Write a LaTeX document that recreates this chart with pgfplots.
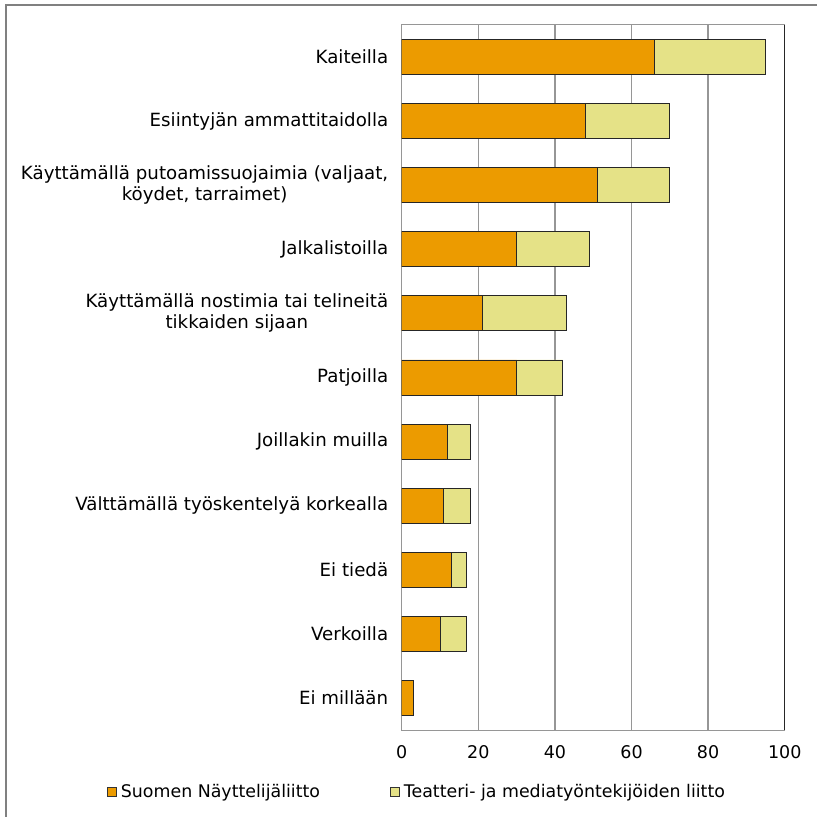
\documentclass[border=0pt]{standalone}
\usepackage{fontspec}
\setmainfont{DejaVu Sans}
\usepackage{pgfplots}
\pgfplotsset{compat=1.18}
\definecolor{cOrange}{RGB}{236,155,0}
\definecolor{cYellow}{RGB}{229,226,135}
\definecolor{cGrid}{RGB}{150,150,150}
\begin{document}
\begin{tikzpicture}[x=1bp,y=1bp]
\useasboundingbox (0,0) rectangle (817,817);
\fill[white] (0,0) rectangle (817,817);
\draw[line width=1.5bp, color={rgb,255:red,128;green,128;blue,128}] (6,-2) -- (6,812) -- (819,812);
\begin{axis}[
  at={(401.7bp,87bp)}, anchor=south west,
  scale only axis, width=383bp, height=705bp,
  xbar stacked, bar width=35bp,
  xmin=0, xmax=100, xtick={0,20,40,60,80,100},
  ymin=-0.5, ymax=10.5, y dir=reverse,
  ytick={0,...,10},
  yticklabels={Kaiteilla, Esiintyjän ammattitaidolla, {Käyttämällä putoamissuojaimia (valjaat,\\köydet, tarraimet)}, Jalkalistoilla, {Käyttämällä nostimia tai telineitä\\tikkaiden sijaan}, Patjoilla, Joillakin muilla, Välttämällä työskentelyä korkealla, Ei tiedä, Verkoilla, Ei millään},
  yticklabel style={align=center, font=\fontsize{18.2bp}{21bp}\selectfont, xshift=-10bp},
  xticklabel style={font=\fontsize{17.5bp}{20bp}\selectfont, yshift=-12bp},
  /pgf/number format/assume math mode=true,
  major tick length=0pt,
  xmajorgrids, grid style={cGrid, line width=1.3bp},
  axis line style={cGrid, line width=1bp},
  legend columns=2,
  legend style={at={(0.04,-0.088)}, anchor=center, draw=none, font=\fontsize{17.4bp}{20bp}\selectfont,
    /tikz/every even column/.append style={column sep=68bp},
    /tikz/every odd column/.append style={column sep=2bp}},
  legend image code/.code={\draw[#1, draw=black!80, line width=0.8bp] (0bp,-4.5bp) rectangle (9bp,4.5bp);},
]
\addplot[fill=cOrange, draw=black!85, line width=0.9bp] coordinates {
(66,0) (48,1) (51,2) (30,3) (21,4) (30,5) (12,6) (11,7) (13,8) (10,9) (3,10)};
\addplot[fill=cYellow, draw=black!85, line width=0.9bp] coordinates {
(29,0) (22,1) (19,2) (19,3) (22,4) (12,5) (6,6) (7,7) (4,8) (7,9) (0,10)};
\legend{Suomen Näyttelijäliitto, Teatteri- ja mediatyöntekijöiden liitto}
\end{axis}
\draw[line width=1.2bp, black!85] (784.7,87) -- (784.7,792);
\end{tikzpicture}
\end{document}
